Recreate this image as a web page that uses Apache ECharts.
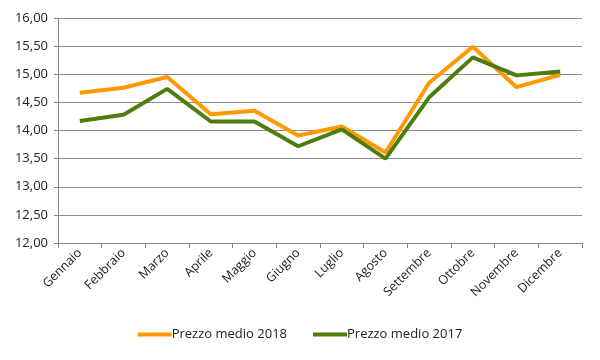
<!DOCTYPE html>
<html><head><meta charset="utf-8">
<script src="https://cdn.jsdelivr.net/npm/echarts@6/dist/echarts.min.js"></script>
<style>html,body{margin:0;padding:0;background:#fff}#c{width:600px;height:360px}</style>
</head><body><div id="c"></div>
<script>
const categories = ["Gennaio","Febbraio","Marzo","Aprile","Maggio","Giugno","Luglio","Agosto","Settembre","Ottobre","Novembre","Dicembre"];
const prezzo2018 = [14.67,14.76,14.95,14.29,14.35,13.91,14.07,13.61,14.85,15.49,14.77,14.99];
const prezzo2017 = [14.17,14.28,14.74,14.16,14.16,13.72,14.02,13.50,14.59,15.30,14.98,15.05];
const seriesNames = ["Prezzo medio 2018","Prezzo medio 2017"];
const FONT = "'Open Sans', 'Liberation Sans', sans-serif";
const chart = echarts.init(document.getElementById('c'), null, {renderer:'canvas'});
chart.setOption({
  animation:false,
  textStyle:{fontFamily:FONT},
  grid:{left:58,right:18,top:18,bottom:117,containLabel:false},
  legend:{bottom:14,left:'center',itemWidth:34,itemHeight:4,itemGap:26,icon:'rect',
    textStyle:{fontSize:13,color:'#222',fontFamily:FONT,padding:[0,0,0,-5]},
    data:seriesNames},
  xAxis:{type:'category',data:categories,boundaryGap:true,
    axisLine:{lineStyle:{color:'#868686',width:1}},
    axisTick:{show:true,length:5,lineStyle:{color:'#868686'}},
    axisLabel:{rotate:45,fontSize:12.5,color:'#222',margin:8,interval:0,fontFamily:FONT}},
  yAxis:{type:'value',min:12,max:16,interval:0.5,
    axisLine:{show:true,lineStyle:{color:'#868686'}},
    axisTick:{show:true,length:4,lineStyle:{color:'#868686'}},
    splitLine:{lineStyle:{color:'#8c8c8c',width:1}},
    axisLabel:{fontSize:13,color:'#222',margin:10,fontFamily:FONT,
      formatter:v=>v.toFixed(2).replace('.',',')}},
  series:[
    {name:seriesNames[0],type:'line',data:prezzo2018,symbol:'none',lineStyle:{color:'#FF9900',width:4},itemStyle:{color:'#FF9900'}},
    {name:seriesNames[1],type:'line',data:prezzo2017,symbol:'none',lineStyle:{color:'#4E7D0E',width:4},itemStyle:{color:'#4E7D0E'}}
  ]
});
</script></body></html>
